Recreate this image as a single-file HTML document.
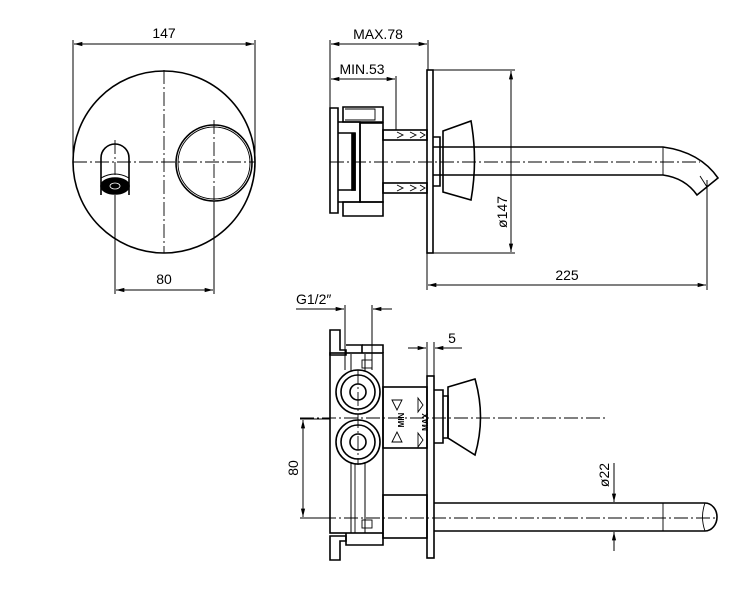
<!DOCTYPE html>
<html><head><meta charset="utf-8"><style>
html,body{margin:0;padding:0;background:#fff;}
svg{display:block;}
text{font-family:"Liberation Sans",sans-serif;font-size:14px;fill:#000;}
</style></head><body>
<svg width="729" height="600" viewBox="0 0 729 600" xmlns="http://www.w3.org/2000/svg">
<defs>
<marker id="a" viewBox="0 0 10 6" refX="10" refY="3" markerWidth="10" markerHeight="5" orient="auto-start-reverse" markerUnits="userSpaceOnUse"><path d="M0,0.5 L10,3 L0,5.5 Z" fill="#000" stroke="none"/></marker>
</defs>
<g stroke="#000" fill="none" stroke-width="1.6">
<!-- ===== Front view ===== -->
<circle cx="164" cy="162" r="91"/>
<circle cx="214" cy="163" r="38"/>
<circle cx="214" cy="163" r="36" stroke-width="0.9"/>
<path d="M101,195 L101,158 A14,14 0 0 1 129,158 L129,195"/>
<path d="M101,178 Q115,170 129,178" stroke-width="0.9"/>
<ellipse cx="115" cy="186" rx="14" ry="8" fill="#000"/>
<ellipse cx="115" cy="186" rx="5" ry="3" stroke="#fff" stroke-width="0.8"/>
<g stroke-width="0.9" stroke-dasharray="14,3,2,3">
<line x1="73" y1="162" x2="255" y2="162"/>
<line x1="164" y1="70" x2="164" y2="253"/>
<line x1="214" y1="120" x2="214" y2="200"/>
<line x1="115" y1="140" x2="115" y2="175"/>
</g>
<g stroke-width="1">
<line x1="73" y1="40" x2="73" y2="162"/>
<line x1="255" y1="40" x2="255" y2="162"/>
<line x1="74" y1="44" x2="254" y2="44" marker-start="url(#a)" marker-end="url(#a)"/>
<line x1="115" y1="195" x2="115" y2="294"/>
<line x1="214" y1="201" x2="214" y2="294"/>
<line x1="116" y1="290" x2="213" y2="290" marker-start="url(#a)" marker-end="url(#a)"/>
</g>

<!-- ===== Side view ===== -->
<rect x="427" y="70" width="6" height="183"/>
<path d="M330,108 L338,108 L338,213 L330,213 Z"/>
<path d="M343,107 L383,107 L383,122 L343,122 Z"/>
<path d="M345,109 L375,109 L375,120 L345,120" stroke-width="0.9"/>
<path d="M343,202 L383,202 L383,216 L343,216 Z"/>
<path d="M338,122 L360,122 L360,202 L338,202"/>
<path d="M338,133 L355,133 L355,190 L338,190"/>
<rect x="352" y="134" width="3" height="56" fill="#000"/>
<rect x="360" y="123" width="23" height="79"/>
<rect x="383" y="130" width="44" height="10"/>
<rect x="383" y="183" width="44" height="10"/>
<g stroke-width="0.9">
<path d="M397,132 L403,135 L397,138 M410,132 L416,135 L410,138 M420,132 L425,135 L420,138"/>
<path d="M397,185 L403,188 L397,191 M410,185 L416,188 L410,191 M420,185 L425,188 L420,191"/>
</g>
<path d="M433,137 L440,137 L440,186 L433,186"/>
<path d="M443,131 L471,121 Q478,160 471,200 L443,192 Z"/>
<path d="M433,147 L663,147 Q700,152 718,178 L697,195 Q685,178 663,175 L433,175"/>
<line x1="663" y1="147" x2="663" y2="175" stroke-width="0.9"/>
<line x1="707" y1="187" x2="700" y2="176" stroke-width="0.9"/>
<line x1="330" y1="162" x2="700" y2="162" stroke-width="0.9" stroke-dasharray="14,3,2,3"/>
<g stroke-width="1">
<line x1="330" y1="40" x2="330" y2="110"/>
<line x1="428" y1="40" x2="428" y2="70"/>
<line x1="331" y1="44" x2="427" y2="44" marker-start="url(#a)" marker-end="url(#a)"/>
<line x1="396" y1="76" x2="396" y2="130"/>
<line x1="331" y1="79" x2="395" y2="79" marker-start="url(#a)" marker-end="url(#a)"/>
<line x1="433" y1="70" x2="515" y2="70"/>
<line x1="433" y1="253" x2="515" y2="253"/>
<line x1="511" y1="71" x2="511" y2="252" marker-start="url(#a)" marker-end="url(#a)"/>
<line x1="427" y1="253" x2="427" y2="290"/>
<line x1="707" y1="180" x2="707" y2="290"/>
<line x1="428" y1="285" x2="706" y2="285" marker-start="url(#a)" marker-end="url(#a)"/>
</g>

<!-- ===== Bottom view ===== -->
<rect x="427" y="376" width="7" height="182"/>
<path d="M330,330 L340,330 L340,350 L346,350 L346,355 L330,355 Z"/>
<path d="M330,536 L346,536 L346,541 L340,541 L340,560 L330,560 Z"/>
<path d="M346,345 L362,345 L362,353"/>
<path d="M362,345 L383,345 L383,353"/>
<rect x="330" y="353" width="53" height="180"/>
<path d="M346,533 L346,545 L383,545 L383,533"/>
<rect x="362" y="360" width="10" height="8" stroke-width="0.9"/>
<rect x="362" y="520" width="10" height="8" stroke-width="0.9"/>
<circle cx="358" cy="392" r="22"/>
<circle cx="358" cy="392" r="17"/>
<circle cx="358" cy="392" r="8"/>
<circle cx="358" cy="442" r="22"/>
<circle cx="358" cy="442" r="17"/>
<circle cx="358" cy="442" r="8"/>
<path d="M351,354 L351,371 M365,354 L365,371 M351,463 L351,533 M365,463 L365,533" stroke-width="1"/>
<path d="M355,464 L355,533" stroke-width="0.9"/>
<rect x="383" y="387" width="44" height="61"/>
<rect x="383" y="495" width="44" height="43"/>
<path d="M434,390 L443,390 L443,443 L434,443"/>
<path d="M443,396 L448,396 L448,438 L443,438"/>
<path d="M448,387 L475,379 Q486,417 475,455 L448,438 Z"/>
<path d="M434,503 L705,503 A12,14 0 0 1 705,531 L434,531"/>
<path d="M705,503 Q700,517 705,531" stroke-width="0.9"/>
<line x1="663" y1="503" x2="663" y2="531" stroke-width="0.9"/>
<g stroke-width="0.9" stroke-dasharray="14,3,2,3">
<line x1="300" y1="518" x2="718" y2="518"/>
<line x1="300" y1="418" x2="605" y2="418"/>
<line x1="358" y1="370" x2="358" y2="465"/>
</g>
<g stroke-width="0.9">
<path d="M392,400 L397,410 L402,400 Z M392,442 L397,432 L402,442 Z"/>
<path d="M418,398 L423,405 L418,412 Z M418,433 L423,440 L418,447 Z"/>
</g>
<g stroke-width="1">
<line x1="296" y1="309" x2="344" y2="309" marker-end="url(#a)"/>
<line x1="392" y1="309" x2="373" y2="309" marker-end="url(#a)"/>
<line x1="345" y1="305" x2="345" y2="370"/>
<line x1="372" y1="305" x2="372" y2="370"/>
<line x1="408" y1="348" x2="426" y2="348" marker-end="url(#a)"/>
<line x1="462" y1="348" x2="435" y2="348" marker-end="url(#a)"/>
<line x1="427" y1="342" x2="427" y2="376"/>
<line x1="434" y1="342" x2="434" y2="376"/>
<line x1="300" y1="419" x2="330" y2="419"/>
<line x1="300" y1="518" x2="330" y2="518"/>
<line x1="303" y1="420" x2="303" y2="517" marker-start="url(#a)" marker-end="url(#a)"/>
<line x1="614" y1="463" x2="614" y2="502" marker-end="url(#a)"/>
<line x1="614" y1="551" x2="614" y2="532" marker-end="url(#a)"/>
</g>
</g>
<text x="164" y="38" text-anchor="middle">147</text>
<text x="164" y="284" text-anchor="middle">80</text>
<text x="378" y="39" text-anchor="middle">MAX.78</text>
<text x="362" y="74" text-anchor="middle">MIN.53</text>
<text x="567" y="280" text-anchor="middle">225</text>
<text transform="translate(507,212) rotate(-90)" text-anchor="middle">ø147</text>
<text x="296" y="304">G1/2″</text>
<text x="452" y="343" text-anchor="middle">5</text>
<text transform="translate(298,468) rotate(-90)" text-anchor="middle">80</text>
<text transform="translate(609,475) rotate(-90)" text-anchor="middle">ø22</text>
<text transform="translate(404,420) rotate(-90)" text-anchor="middle" style="font-size:8px;font-weight:bold">MIN</text>
<text transform="translate(428,422) rotate(-90)" text-anchor="middle" style="font-size:8px;font-weight:bold">MAX</text>
</svg>
</body></html>
